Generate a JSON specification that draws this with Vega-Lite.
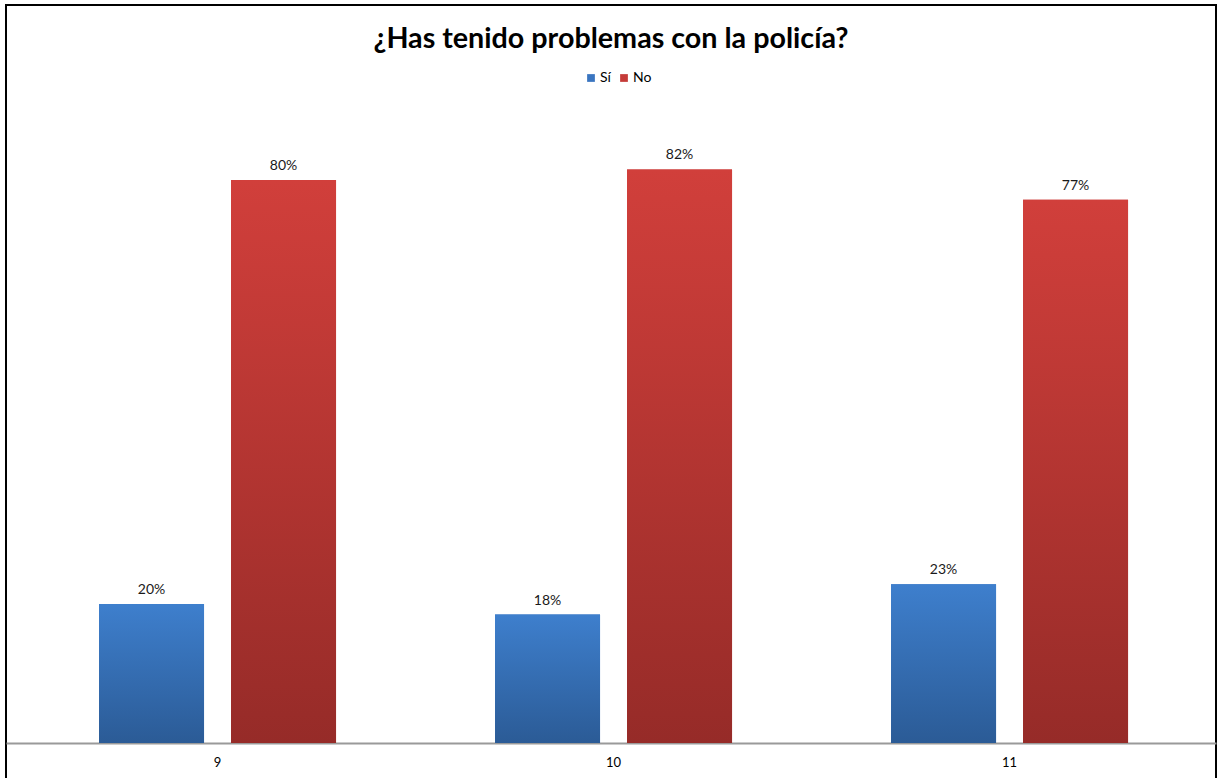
{
  "$schema": "https://vega.github.io/schema/vega-lite/v6.json",
  "width": 1210,
  "height": 775,
  "autosize": {"type": "none"},
  "padding": {"left": 6, "top": 5, "right": 5, "bottom": 0},
  "background": "white",
  "config": {"view": {"stroke": "black", "strokeWidth": 2}, "font": "Lato"},
  "title": {
    "text": "¿Has tenido problemas con la policía?",
    "fontSize": 28.7,
    "font": "Lato",
    "fontWeight": "bold",
    "color": "#000000",
    "anchor": "middle",
    "frame": "group",
    "offset": -49
  },
  "data": {
    "values": [
      {"grado": "9", "resp": "Sí", "pct": 0.198},
      {"grado": "9", "resp": "No", "pct": 0.802},
      {"grado": "10", "resp": "Sí", "pct": 0.183},
      {"grado": "10", "resp": "No", "pct": 0.817},
      {"grado": "11", "resp": "Sí", "pct": 0.226},
      {"grado": "11", "resp": "No", "pct": 0.774}
    ]
  },
  "encoding": {
    "x": {
      "field": "grado",
      "type": "nominal",
      "sort": ["9", "10", "11"],
      "scale": {"paddingInner": 0.4015, "paddingOuter": 0.2285, "align": 0.514},
      "axis": {
        "orient": "bottom",
        "offset": -37,
        "title": null,
        "ticks": false,
        "labelAngle": 0,
        "labelPadding": 13,
        "labelFontSize": 13,
        "labelFont": "Lato",
        "labelColor": "#000000",
        "domainColor": "#9a9a9a",
        "domainWidth": 2,
        "grid": false
      }
    },
    "xOffset": {
      "field": "resp",
      "type": "nominal",
      "sort": ["Sí", "No"],
      "scale": {"paddingInner": 0.2045, "paddingOuter": 0}
    },
    "y": {
      "field": "pct",
      "type": "quantitative",
      "scale": {"domain": [-0.0527, 1.0513], "nice": false},
      "axis": null
    }
  },
  "layer": [
    {
      "mark": {"type": "bar"},
      "encoding": {
        "color": {
          "field": "resp",
          "type": "nominal",
          "sort": ["Sí", "No"],
          "scale": {"domain": ["Sí", "No"], "range": ["#3a75c0", "#c53b38"]},
          "legend": {
            "orient": "none",
            "legendX": 578,
            "legendY": 66,
            "direction": "horizontal",
            "title": null,
            "symbolType": "square",
            "symbolSize": 60,
            "symbolStrokeWidth": 0,
            "labelFontSize": 14,
            "labelFont": "Lato",
            "labelColor": "#000000",
            "labelOffset": 2,
            "columnPadding": 6,
            "padding": 0
          }
        }
      }
    },
    {
      "mark": {"type": "bar"},
      "encoding": {
        "color": {
          "condition": {
            "test": "datum.resp === 'Sí'",
            "value": {
              "gradient": "linear",
              "x1": 0, "y1": 0, "x2": 0, "y2": 1,
              "stops": [
                {"offset": 0, "color": "#3e7fcd"},
                {"offset": 1, "color": "#2b5b96"}
              ]
            }
          },
          "value": {
            "gradient": "linear",
            "x1": 0, "y1": 0, "x2": 0, "y2": 1,
            "stops": [
              {"offset": 0, "color": "#d13f3b"},
              {"offset": 1, "color": "#962b28"}
            ]
          }
        }
      }
    },
    {
      "mark": {"type": "text", "baseline": "alphabetic", "dy": -10, "fontSize": 14, "font": "Lato", "color": "#1a1a1a"},
      "encoding": {
        "text": {"field": "pct", "type": "quantitative", "format": ".0%"}
      }
    }
  ]
}
